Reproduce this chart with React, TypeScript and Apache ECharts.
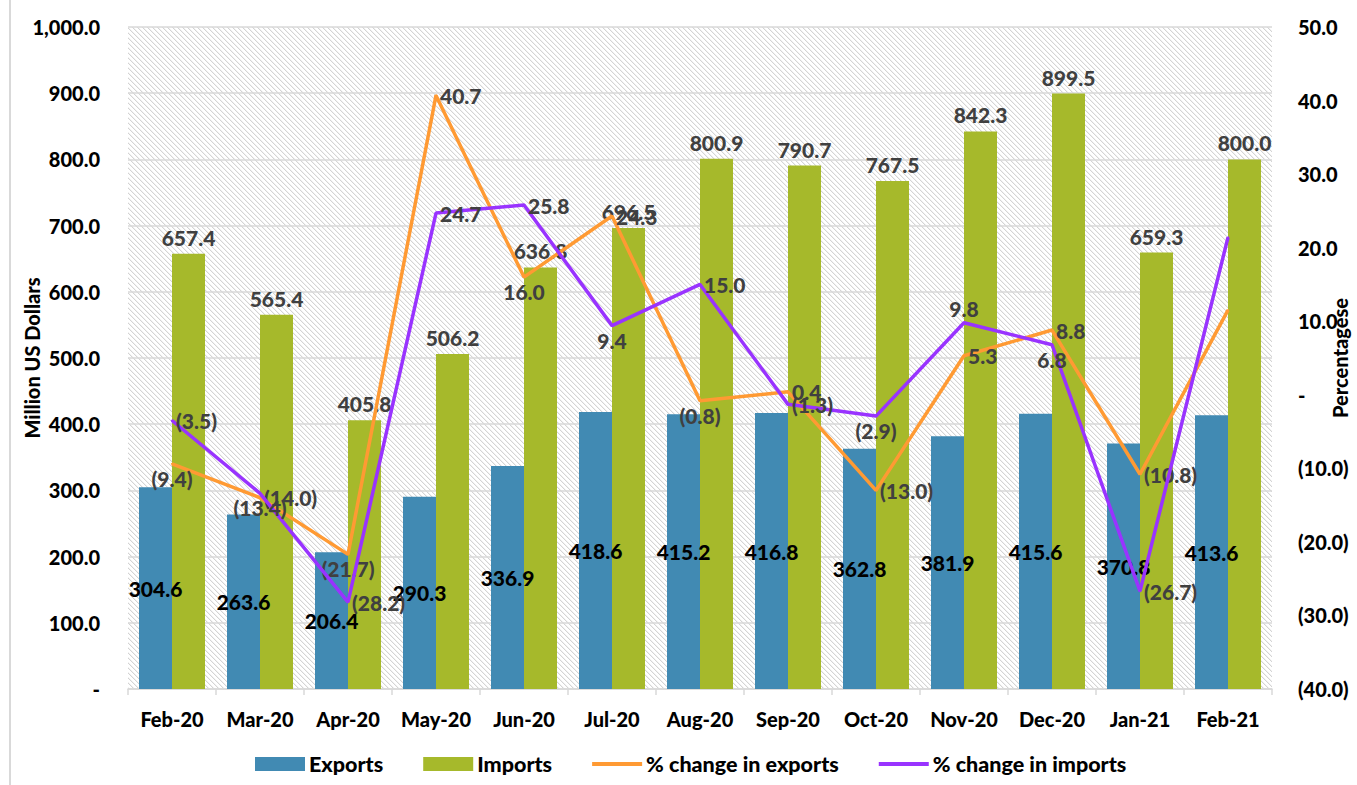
import React, { useEffect, useRef } from "react";
import * as echarts from "echarts";

const categories = ["Feb-20", "Mar-20", "Apr-20", "May-20", "Jun-20", "Jul-20", "Aug-20", "Sep-20", "Oct-20", "Nov-20", "Dec-20", "Jan-21", "Feb-21"];
const exportsVals = [304.6, 263.6, 206.4, 290.3, 336.9, 418.6, 415.2, 416.8, 362.8, 381.9, 415.6, 370.8, 413.6];
const importsVals = [657.4, 565.4, 405.8, 506.2, 636.8, 696.5, 800.9, 790.7, 767.5, 842.3, 899.5, 659.3, 800.0];
const exportsChange = [-9.4, -14.0, -21.7, 40.7, 16.0, 24.3, -0.8, 0.4, -13.0, 5.3, 8.8, -10.8, 11.5];
const importsChange = [-3.5, -13.4, -28.2, 24.7, 25.8, 9.4, 15.0, -1.3, -2.9, 9.8, 6.8, -26.7, 21.4];
const exportsLabelPos = ["bottom", "right", "bottom", "right", "bottom", "right", "bottom", "right", "right", "right", "right", "right", null];
const importsLabelPos = ["right", "bottom", "right", "right", "right", "bottom", "right", "right", "bottom", "top", "bottom", "right", null];

const FONT = "Lato, 'Noto Sans', sans-serif";

function fmtPct(v: number): string {
  if (v === 0) return "-";
  const s = Math.abs(v).toFixed(1);
  return v < 0 ? "(" + s + ")" : s;
}
function fmtMoney(v: number): string {
  if (v === 0) return "-";
  return v.toLocaleString("en-US", { minimumFractionDigits: 1, maximumFractionDigits: 1 });
}

function makeHatch(): HTMLCanvasElement {
  const c = document.createElement("canvas");
  const n = 5;
  c.width = n;
  c.height = n;
  const ctx = c.getContext("2d")!;
  ctx.fillStyle = "#ffffff";
  ctx.fillRect(0, 0, n, n);
  for (let y = 0; y < n; y++) {
    for (let x = 0; x < n; x++) {
      const d = (x - y + n * 2) % n;
      if (d === 0) {
        ctx.fillStyle = "#d4d4d4";
        ctx.fillRect(x, y, 1, 1);
      } else if (d === 1) {
        ctx.fillStyle = "#f2f2f2";
        ctx.fillRect(x, y, 1, 1);
      }
    }
  }
  return c;
}

export default function App() {
  const ref = useRef<HTMLDivElement>(null);
  useEffect(() => {
    if (!ref.current) return;
    const chart = echarts.init(ref.current, undefined, { renderer: "svg" });
    const hatch = makeHatch();

    const lineData = (vals: number[], pos: (string | null)[]) =>
      vals.map((v, i) =>
        pos[i]
          ? { value: v, label: { show: true, position: pos[i] } }
          : { value: v, label: { show: false } }
      );

    const lineLabel = {
      show: true,
      color: "#404040",
      fontFamily: FONT,
      fontWeight: 900,
      fontSize: 21,
      distance: 3,
      formatter: (p: any) => fmtPct(p.value),
    };

    const axisText = { color: "#000", fontFamily: FONT, fontWeight: 900, fontSize: 20 };

    chart.setOption({
      animation: false,
      backgroundColor: "#ffffff",
      textStyle: { fontFamily: FONT },
      graphic: [
        {
          type: "line",
          shape: { x1: 10, y1: 0, x2: 10, y2: 785 },
          style: { stroke: "#d9d9d9", lineWidth: 2 },
        },
      ],
      grid: {
        left: 128,
        right: 85,
        top: 27,
        bottom: 96,
        show: true,
        borderWidth: 0,
        containLabel: false,
        outerBoundsMode: "none",
        backgroundColor: { image: hatch, repeat: "repeat" },
      },
      legend: {
        bottom: 5,
        left: 250,
        itemGap: 40,
        itemWidth: 50,
        itemHeight: 14,
        textStyle: { fontFamily: FONT, fontWeight: 900, fontSize: 21.5, color: "#000", padding: [0, 0, 0, -1] },
        data: [
          { name: "Exports", icon: "rect" },
          { name: "Imports", icon: "rect" },
          { name: "% change in exports", icon: "path://M0,0h50v4h-50z" },
          { name: "% change in imports", icon: "path://M0,0h50v4h-50z" },
        ],
      },
      xAxis: {
        type: "category",
        data: categories,
        axisLine: { lineStyle: { color: "#d9d9d9", width: 1.5 } },
        axisTick: { show: true, length: 6, lineStyle: { color: "#d9d9d9", width: 1.5 } },
        axisLabel: { ...axisText, interval: 0, margin: 20 },
      },
      yAxis: [
        {
          type: "value",
          min: 0,
          max: 1000,
          interval: 100,
          name: "Million US Dollars",
          nameLocation: "middle",
          nameGap: 86,
          nameRotate: 90,
          nameMoveOverlap: false,
          nameTextStyle: axisText,
          axisLine: { show: false },
          axisTick: { show: false },
          splitLine: { lineStyle: { color: "#d9d9d9", width: 1.5 } },
          axisLabel: { ...axisText, margin: 28, formatter: fmtMoney },
        },
        {
          type: "value",
          min: -40,
          max: 50,
          interval: 10,
          position: "right",
          name: "Percentagese",
          nameLocation: "middle",
          nameGap: 58,
          nameRotate: 90,
          nameMoveOverlap: false,
          nameTextStyle: axisText,
          axisLine: { show: false },
          axisTick: { show: false },
          splitLine: { show: false },
          axisLabel: { ...axisText, margin: 26, formatter: fmtPct },
        },
      ],
      series: [
        {
          name: "Exports",
          type: "bar",
          data: exportsVals,
          barGap: "0%",
          barCategoryGap: "25%",
          itemStyle: { color: "#418AB3" },
          label: {
            show: true,
            position: "inside",
            color: "#000",
            fontFamily: FONT,
            fontWeight: 900,
            fontSize: 21,
            formatter: (p: any) => p.value.toFixed(1),
          },
        },
        {
          name: "Imports",
          type: "bar",
          data: importsVals,
          barGap: "0%",
          barCategoryGap: "25%",
          itemStyle: { color: "#A6B92B" },
          label: {
            show: true,
            position: "top",
            distance: 6,
            color: "#404040",
            fontFamily: FONT,
            fontWeight: 900,
            fontSize: 21,
            formatter: (p: any) => p.value.toFixed(1),
          },
        },
        {
          name: "% change in exports",
          type: "line",
          yAxisIndex: 1,
          data: lineData(exportsChange, exportsLabelPos),
          symbol: "circle",
          symbolSize: 2,
          itemStyle: { color: "#FF9A33" },
          lineStyle: { color: "#FF9A33", width: 3.5 },
          label: lineLabel,
          z: 5,
        },
        {
          name: "% change in imports",
          type: "line",
          yAxisIndex: 1,
          data: lineData(importsChange, importsLabelPos),
          symbol: "circle",
          symbolSize: 2,
          itemStyle: { color: "#9933FF" },
          lineStyle: { color: "#9933FF", width: 3.5 },
          label: lineLabel,
          z: 6,
        },
      ],
    });
    return () => chart.dispose();
  }, []);
  return <div ref={ref} style={{ position: "fixed", left: 0, top: 0, width: 1357, height: 785 }} />;
}
